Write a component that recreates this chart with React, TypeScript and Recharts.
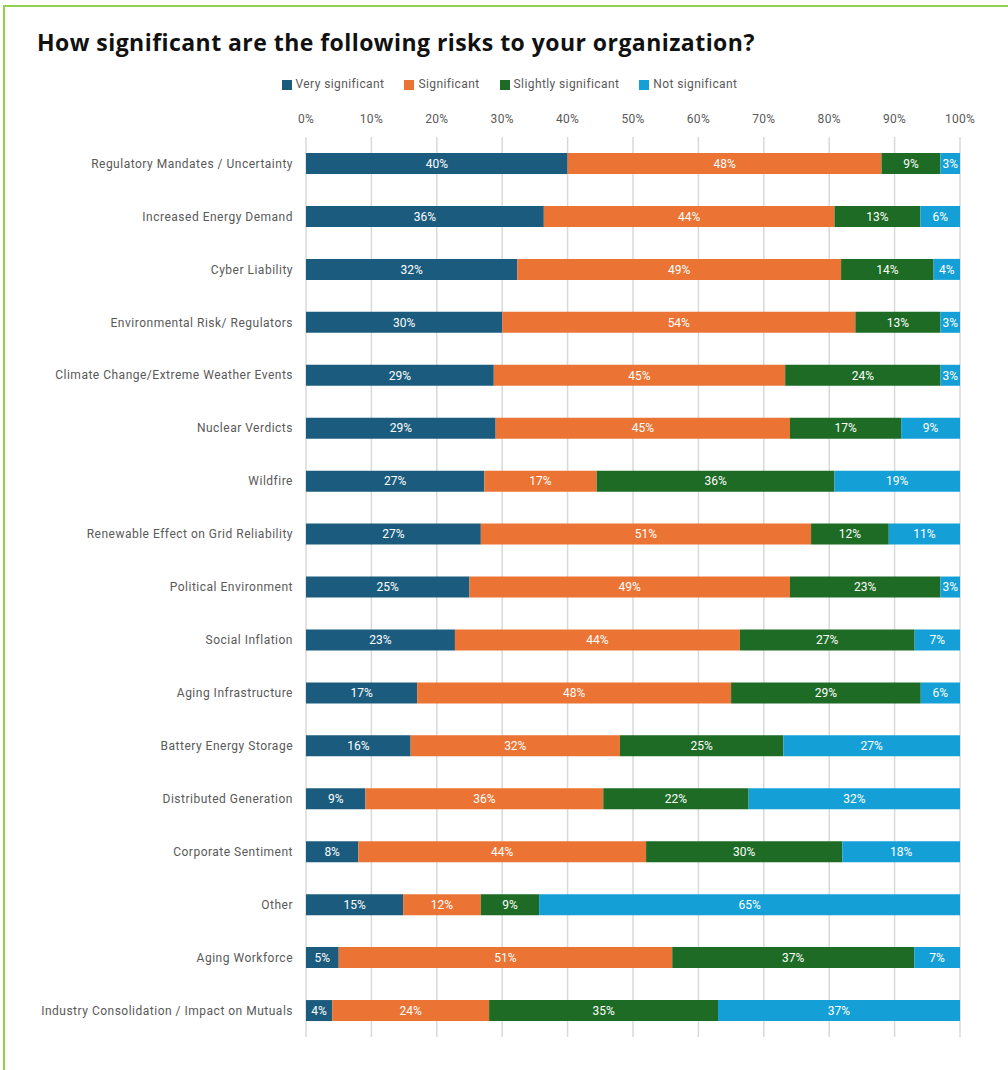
import { BarChart, Bar, XAxis, YAxis, CartesianGrid, Legend, LabelList } from 'recharts';

const categories = [
  'Regulatory Mandates / Uncertainty',
  'Increased Energy Demand',
  'Cyber Liability',
  'Environmental Risk/ Regulators',
  'Climate Change/Extreme Weather Events',
  'Nuclear Verdicts',
  'Wildfire',
  'Renewable Effect on Grid Reliability',
  'Political Environment',
  'Social Inflation',
  'Aging Infrastructure',
  'Battery Energy Storage',
  'Distributed Generation',
  'Corporate Sentiment',
  'Other',
  'Aging Workforce',
  'Industry Consolidation / Impact on Mutuals',
];

const verySignificant = [40, 36, 32, 30, 29, 29, 27, 27, 25, 23, 17, 16, 9, 8, 15, 5, 4];
const significant = [48, 44, 49, 54, 45, 45, 17, 51, 49, 44, 48, 32, 36, 44, 12, 51, 24];
const slightlySignificant = [9, 13, 14, 13, 24, 17, 36, 12, 23, 27, 29, 25, 22, 30, 9, 37, 35];
const notSignificant = [3, 6, 4, 3, 3, 9, 19, 11, 3, 7, 6, 27, 32, 18, 65, 7, 37];

const ticks = [0, 0.1, 0.2, 0.3, 0.4, 0.5, 0.6, 0.7, 0.8, 0.9, 1];

const series = [
  { key: 'very', name: 'Very significant', color: '#1B5C7E' },
  { key: 'sig', name: 'Significant', color: '#EB7434' },
  { key: 'slight', name: 'Slightly significant', color: '#1D6B24' },
  { key: 'not', name: 'Not significant', color: '#14A0D6' },
];

const data = categories.map((name, i) => ({
  name,
  very: verySignificant[i],
  sig: significant[i],
  slight: slightlySignificant[i],
  not: notSignificant[i],
}));

const font = 'Roboto, "Liberation Sans", sans-serif';

// keep the legend in series order (recharts sorts by name otherwise)
const legendOrder = (item: any) => series.findIndex((s) => s.name === item.value);

export default function App() {
  return (
    <div
      style={{
        position: 'absolute',
        left: 0,
        top: 0,
        width: 1008,
        height: 1070,
        overflow: 'hidden',
        background: '#fff',
        fontFamily: font,
      }}
    >
      <div
        style={{
          position: 'absolute',
          left: 3,
          top: 5,
          width: 1100,
          height: 1100,
          border: '2px solid #92D050',
        }}
      />
      <div
        style={{
          position: 'absolute',
          left: 37,
          top: 26,
          fontFamily: '"Open Sans", sans-serif',
          fontWeight: 700,
          fontSize: 23,
          letterSpacing: 0.45,
          color: '#111',
          whiteSpace: 'nowrap',
        }}
      >
        How significant are the following risks to your organization?
      </div>
      <div style={{ position: 'absolute', left: 0, top: 0 }}>
        <BarChart
          width={1008}
          height={1045}
          data={data}
          layout="vertical"
          stackOffset="expand"
          barSize={21}
          margin={{ top: 74, right: 48, bottom: 8, left: 0 }}
        >
          <CartesianGrid horizontal={false} stroke="#d9d9d9" strokeWidth={1.5} />
          <XAxis
            type="number"
            orientation="top"
            domain={[0, 1]}
            ticks={ticks}
            tickFormatter={(v: number) => `${Math.round(v * 100)}%`}
            axisLine={false}
            tickLine={false}
            tickSize={0}
            tickMargin={14}
            height={43}
            tick={{ fill: '#595959', fontSize: 12, fontFamily: font, letterSpacing: 0.3 }}
            interval={0}
          />
          <YAxis
            type="category"
            dataKey="name"
            width={306}
            axisLine={false}
            tickLine={false}
            tickSize={0}
            tickMargin={13}
            interval={0}
            tick={{ fill: '#595959', fontSize: 12, fontFamily: font, letterSpacing: 0.5 }}
          />
          <Legend
            verticalAlign="top"
            align="center"
            iconType="square"
            iconSize={10}
            height={20}
            itemSorter={legendOrder}
            wrapperStyle={{ left: 0, top: 77, width: 1029, fontSize: 12, fontFamily: font, letterSpacing: 0.4 }}
            formatter={(value: string) => (
              <span
                style={{
                  color: '#595959',
                  marginRight: value === 'Not significant' ? 0 : 10,
                }}
              >
                {value}
              </span>
            )}
          />
          {series.map((s) => (
            <Bar key={s.key} dataKey={s.key} name={s.name} stackId="a" fill={s.color} isAnimationActive={false}>
              <LabelList
                dataKey={s.key}
                position="center"
                fill="#ffffff"
                fontSize={12}
                fontFamily={font}
                formatter={(v: number) => `${v}%`}
              />
            </Bar>
          ))}
        </BarChart>
      </div>
    </div>
  );
}
